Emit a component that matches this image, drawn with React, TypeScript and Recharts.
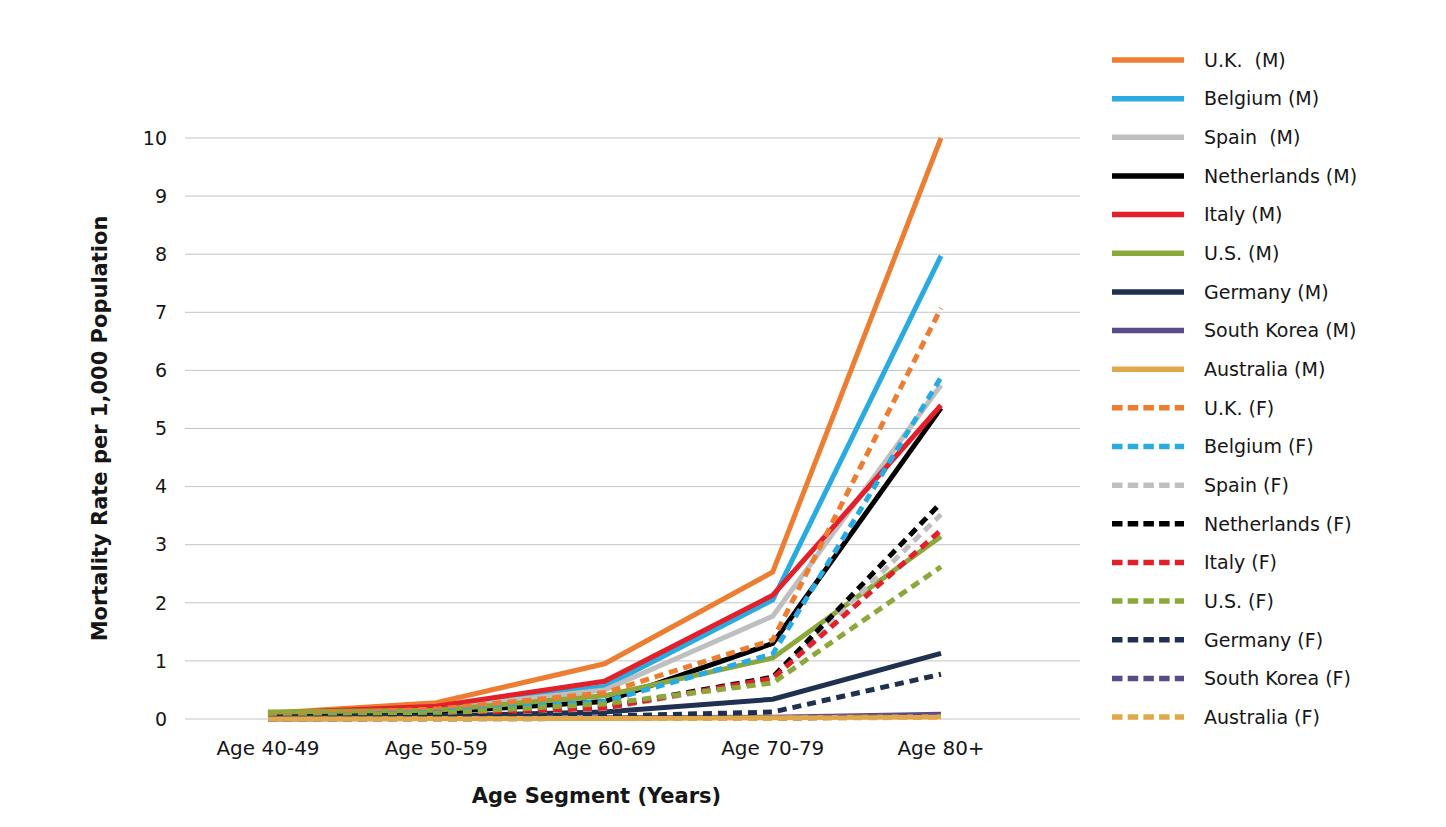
import { CartesianGrid, Legend, Line, LineChart, XAxis, YAxis } from "recharts";

const ageSegments = ["Age 40-49", "Age 50-59", "Age 60-69", "Age 70-79", "Age 80+"];
const yTicks = [0, 1, 2, 3, 4, 5, 6, 7, 8, 9, 10];

// mortality per 1,000
const ukMale = [0.1, 0.28, 0.95, 2.53, 10.0];
const belgiumMale = [0.08, 0.2, 0.56, 2.05, 7.97];
const spainMale = [0.06, 0.18, 0.5, 1.77, 5.75];
const netherlandsMale = [0.05, 0.12, 0.3, 1.3, 5.35];
const italyMale = [0.1, 0.22, 0.65, 2.13, 5.4];
const usMale = [0.12, 0.15, 0.4, 1.05, 3.14];
const germanyMale = [0.03, 0.05, 0.12, 0.34, 1.13];
const koreaMale = [0.0, 0.01, 0.02, 0.03, 0.08];
const australiaMale = [0.0, 0.01, 0.01, 0.02, 0.04];

const ukFemale = [0.06, 0.17, 0.45, 1.36, 7.07];
const belgiumFemale = [0.04, 0.12, 0.3, 1.12, 5.88];
const spainFemale = [0.03, 0.08, 0.18, 0.68, 3.52];
const netherlandsFemale = [0.03, 0.08, 0.2, 0.72, 3.72];
const italyFemale = [0.04, 0.1, 0.19, 0.7, 3.25];
const usFemale = [0.05, 0.1, 0.26, 0.62, 2.62];
const germanyFemale = [0.01, 0.03, 0.05, 0.12, 0.77];
const koreaFemale = [0.0, 0.0, 0.01, 0.01, 0.05];
const australiaFemale = [0.0, 0.0, 0.01, 0.01, 0.03];

const COLORS = {
  uk: "#ED7D31",
  belgium: "#29ABE2",
  spain: "#BFBFBF",
  netherlands: "#000000",
  italy: "#E3202A",
  us: "#8DA83A",
  germany: "#1F3050",
  korea: "#5B4A8B",
  australia: "#E0A84A",
};

type Series = { key: string; name: string; color: string; values: number[]; dashed: boolean };

const series: Series[] = [
  { key: "ukM", name: "U.K.  (M)", color: COLORS.uk, values: ukMale, dashed: false },
  { key: "beM", name: "Belgium (M)", color: COLORS.belgium, values: belgiumMale, dashed: false },
  { key: "esM", name: "Spain  (M)", color: COLORS.spain, values: spainMale, dashed: false },
  { key: "nlM", name: "Netherlands (M)", color: COLORS.netherlands, values: netherlandsMale, dashed: false },
  { key: "itM", name: "Italy (M)", color: COLORS.italy, values: italyMale, dashed: false },
  { key: "usM", name: "U.S. (M)", color: COLORS.us, values: usMale, dashed: false },
  { key: "deM", name: "Germany (M)", color: COLORS.germany, values: germanyMale, dashed: false },
  { key: "krM", name: "South Korea (M)", color: COLORS.korea, values: koreaMale, dashed: false },
  { key: "auM", name: "Australia (M)", color: COLORS.australia, values: australiaMale, dashed: false },
  { key: "ukF", name: "U.K. (F)", color: COLORS.uk, values: ukFemale, dashed: true },
  { key: "beF", name: "Belgium (F)", color: COLORS.belgium, values: belgiumFemale, dashed: true },
  { key: "esF", name: "Spain (F)", color: COLORS.spain, values: spainFemale, dashed: true },
  { key: "nlF", name: "Netherlands (F)", color: COLORS.netherlands, values: netherlandsFemale, dashed: true },
  { key: "itF", name: "Italy (F)", color: COLORS.italy, values: italyFemale, dashed: true },
  { key: "usF", name: "U.S. (F)", color: COLORS.us, values: usFemale, dashed: true },
  { key: "deF", name: "Germany (F)", color: COLORS.germany, values: germanyFemale, dashed: true },
  { key: "krF", name: "South Korea (F)", color: COLORS.korea, values: koreaFemale, dashed: true },
  { key: "auF", name: "Australia (F)", color: COLORS.australia, values: australiaFemale, dashed: true },
];

const data = ageSegments.map((age, i) => {
  const row: Record<string, string | number> = { age };
  series.forEach((s) => (row[s.key] = s.values[i]));
  return row;
});

const FONT = "'DejaVu Sans', sans-serif";
const TEXT = "#161616";
const LEGEND_W = 320;
const ROW_H = 38.65;

// Excel-style legend: one row per series, line swatch then label
const LegendRows = () => (
  <svg width={LEGEND_W} height={720} style={{ display: "block" }}>
    {series.map((s, i) => {
      const y = 52 + i * ROW_H;
      return (
        <g key={s.key}>
          <line
            x1={0}
            x2={72}
            y1={y}
            y2={y}
            stroke={s.color}
            strokeWidth={5.5}
            strokeDasharray={s.dashed ? "10.5 5.2" : undefined}
          />
          <text x={92} y={y} dy="0.36em" fontFamily={FONT} fontSize={19} fill={TEXT} style={{ whiteSpace: "pre" }}>
            {s.name}
          </text>
        </g>
      );
    })}
  </svg>
);

const YTitle = ({ viewBox }: any) => {
  const cy = viewBox.y + viewBox.height / 2;
  return (
    <text
      x={92}
      y={cy}
      transform={`rotate(-90, 92, ${cy})`}
      textAnchor="middle"
      dominantBaseline="central"
      fontFamily={FONT}
      fontWeight="bold"
      fontSize={21}
      fill={TEXT}
    >
      Mortality Rate per 1,000 Population
    </text>
  );
};

const XTitle = ({ viewBox }: any) => (
  <text
    x={viewBox.x + viewBox.width / 2 - 36}
    y={795}
    textAnchor="middle"
    fontFamily={FONT}
    fontWeight="bold"
    fontSize={21}
    fill={TEXT}
  >
    Age Segment (Years)
  </text>
);

export default function App() {
  return (
    <div style={{ width: 1430, height: 811, background: "#fff" }}>
      <LineChart width={1430} height={811} data={data} margin={{ top: 130, right: 358 - LEGEND_W, bottom: 0, left: 77 }}>
        <CartesianGrid vertical={false} stroke="#C4C4C4" strokeWidth={1} />
        <XAxis
          dataKey="age"
          type="category"
          padding={{ left: 83, right: 139 }}
          tickLine={false}
          axisLine={false}
          height={100}
          tickMargin={16}
          interval={0}
          tick={{ fontFamily: FONT, fontSize: 20, fill: TEXT }}
          label={{ content: XTitle }}
        />
        <YAxis
          type="number"
          domain={[0, 10]}
          ticks={yTicks}
          interval={0}
          width={100}
          tickLine={false}
          axisLine={false}
          tickMargin={12}
          tick={{ fontFamily: FONT, fontSize: 19, fill: TEXT }}
          label={{ content: YTitle }}
        />
        <Legend
          layout="vertical"
          align="right"
          verticalAlign="top"
          content={LegendRows}
          wrapperStyle={{ left: 1104, top: 0, width: LEGEND_W }}
        />
        {series.map((s) => (
          <Line
            key={s.key}
            type="linear"
            dataKey={s.key}
            name={s.name}
            stroke={s.color}
            strokeWidth={5}
            strokeDasharray={s.dashed ? "9 6" : undefined}
            dot={false}
            activeDot={false}
            isAnimationActive={false}
          />
        ))}
      </LineChart>
    </div>
  );
}
